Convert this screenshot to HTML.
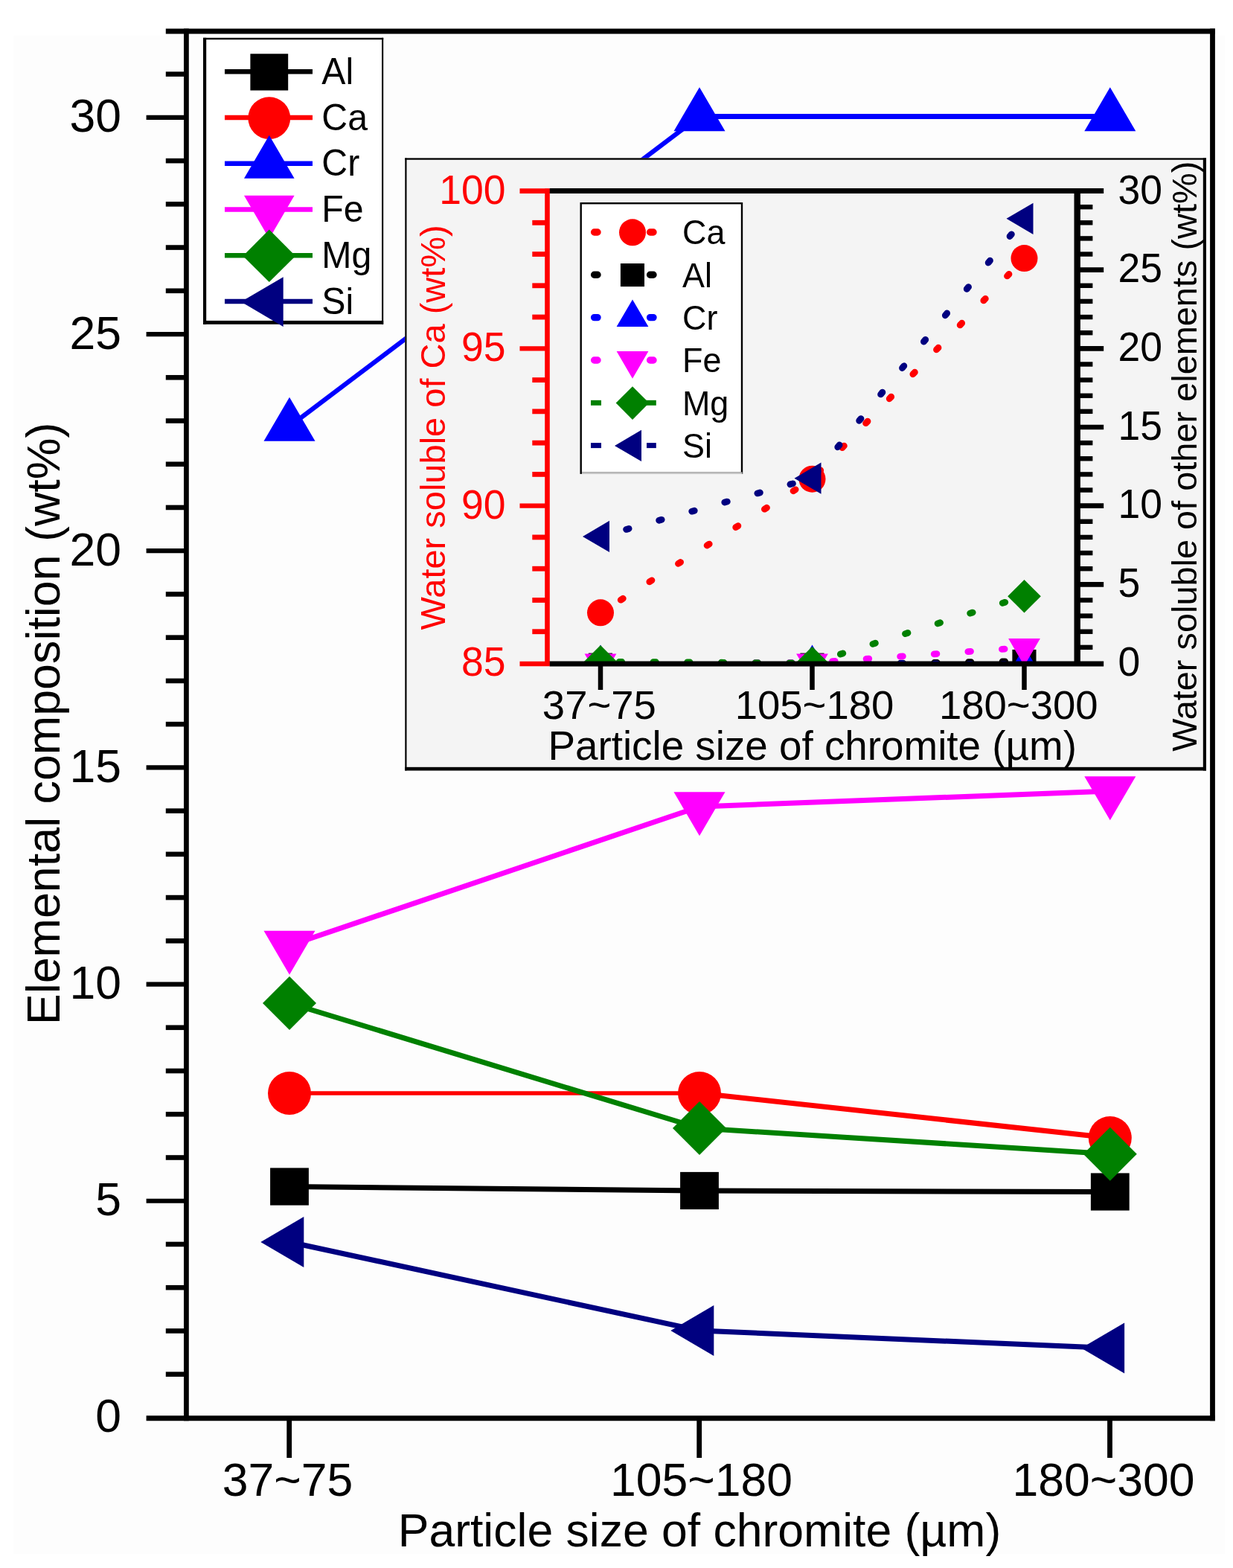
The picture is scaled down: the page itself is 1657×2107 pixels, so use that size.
<!DOCTYPE html>
<html lang="en"><head><meta charset="utf-8"><title>Elemental composition vs particle size of chromite</title>
<style>html,body{margin:0;padding:0;background:#fff;}body{width:1657px;height:2107px;overflow:hidden;}svg{display:block;}text{font-family:"Liberation Sans", sans-serif;}</style>
</head><body>
<svg width="1657" height="2107" viewBox="0 0 1657 2107" role="img" aria-label="Elemental composition versus particle size of chromite, with inset of water soluble fractions">
<rect x="0" y="0" width="1657" height="2107" fill="#ffffff"/>
<rect x="18" y="48" width="1628" height="2040" fill="#fdfdfd"/>
<line x1="389" y1="1594.5" x2="940" y2="1600" stroke="#000000" stroke-width="7.0"/>
<line x1="940" y1="1600" x2="1491.8" y2="1601.5" stroke="#000000" stroke-width="7.0"/>
<rect x="363.1" y="1569.4" width="51.8" height="50.2" fill="#000000"/>
<rect x="914.1" y="1574.9" width="51.8" height="50.2" fill="#000000"/>
<rect x="1465.9" y="1576.4" width="51.8" height="50.2" fill="#000000"/>
<line x1="389" y1="1469" x2="940" y2="1469" stroke="#ff0000" stroke-width="5.4"/>
<line x1="940" y1="1469" x2="1491.8" y2="1529" stroke="#ff0000" stroke-width="7.0"/>
<circle cx="389" cy="1469" r="29.0" fill="#ff0000"/>
<circle cx="940" cy="1469" r="29.0" fill="#ff0000"/>
<circle cx="1491.8" cy="1529" r="29.0" fill="#ff0000"/>
<line x1="389" y1="573" x2="940" y2="156.5" stroke="#0000ff" stroke-width="6.2"/>
<line x1="940" y1="156.5" x2="1491.8" y2="156.5" stroke="#0000ff" stroke-width="7.2"/>
<polygon points="389.0,533.7 423.5,592.7 354.5,592.7" fill="#0000ff"/>
<polygon points="940.0,117.2 974.5,176.2 905.5,176.2" fill="#0000ff"/>
<polygon points="1491.8,117.2 1526.3,176.2 1457.3,176.2" fill="#0000ff"/>
<line x1="389" y1="1270.5" x2="940" y2="1084" stroke="#ff00ff" stroke-width="7.0"/>
<line x1="940" y1="1084" x2="1491.8" y2="1063" stroke="#ff00ff" stroke-width="7.0"/>
<polygon points="389.0,1309.8 423.5,1250.8 354.5,1250.8" fill="#ff00ff"/>
<polygon points="940.0,1123.3 974.5,1064.3 905.5,1064.3" fill="#ff00ff"/>
<polygon points="1491.8,1102.3 1526.3,1043.3 1457.3,1043.3" fill="#ff00ff"/>
<line x1="389" y1="1348" x2="940" y2="1516" stroke="#008000" stroke-width="7.0"/>
<line x1="940" y1="1516" x2="1491.8" y2="1550.7" stroke="#008000" stroke-width="7.0"/>
<polygon points="389.0,1312.0 425.0,1348.0 389.0,1384.0 353.0,1348.0" fill="#008000"/>
<polygon points="940.0,1480.0 976.0,1516.0 940.0,1552.0 904.0,1516.0" fill="#008000"/>
<polygon points="1491.8,1514.7 1527.8,1550.7 1491.8,1586.7 1455.8,1550.7" fill="#008000"/>
<line x1="389" y1="1669" x2="940" y2="1788" stroke="#000080" stroke-width="7.0"/>
<line x1="940" y1="1788" x2="1491.8" y2="1811.5" stroke="#000080" stroke-width="7.0"/>
<polygon points="350.3,1669.0 408.3,1635.0 408.3,1703.0" fill="#000080"/>
<polygon points="901.3,1788.0 959.3,1754.0 959.3,1822.0" fill="#000080"/>
<polygon points="1453.1,1811.5 1511.1,1777.5 1511.1,1845.5" fill="#000080"/>
<line x1="250.4" y1="38.6" x2="250.4" y2="1909.2" stroke="#000" stroke-width="6.8" />
<line x1="1629.5" y1="38.6" x2="1629.5" y2="1909.2" stroke="#000" stroke-width="6.8" />
<line x1="222.8" y1="42.1" x2="1632.9" y2="42.1" stroke="#000" stroke-width="7" />
<line x1="196.6" y1="1905.7" x2="1632.9" y2="1905.7" stroke="#000" stroke-width="7" />
<line x1="222.8" y1="1846.6650000000002" x2="250.4" y2="1846.6650000000002" stroke="#000" stroke-width="6.6" />
<line x1="222.8" y1="1788.43" x2="250.4" y2="1788.43" stroke="#000" stroke-width="6.6" />
<line x1="222.8" y1="1730.1950000000002" x2="250.4" y2="1730.1950000000002" stroke="#000" stroke-width="6.6" />
<line x1="222.8" y1="1671.96" x2="250.4" y2="1671.96" stroke="#000" stroke-width="6.6" />
<line x1="196.6" y1="1613.7250000000001" x2="250.4" y2="1613.7250000000001" stroke="#000" stroke-width="6.2" />
<line x1="222.8" y1="1555.4900000000002" x2="250.4" y2="1555.4900000000002" stroke="#000" stroke-width="6.6" />
<line x1="222.8" y1="1497.255" x2="250.4" y2="1497.255" stroke="#000" stroke-width="6.6" />
<line x1="222.8" y1="1439.02" x2="250.4" y2="1439.02" stroke="#000" stroke-width="6.6" />
<line x1="222.8" y1="1380.785" x2="250.4" y2="1380.785" stroke="#000" stroke-width="6.6" />
<line x1="196.6" y1="1322.5500000000002" x2="250.4" y2="1322.5500000000002" stroke="#000" stroke-width="6.2" />
<line x1="222.8" y1="1264.315" x2="250.4" y2="1264.315" stroke="#000" stroke-width="6.6" />
<line x1="222.8" y1="1206.0800000000002" x2="250.4" y2="1206.0800000000002" stroke="#000" stroke-width="6.6" />
<line x1="222.8" y1="1147.8450000000003" x2="250.4" y2="1147.8450000000003" stroke="#000" stroke-width="6.6" />
<line x1="222.8" y1="1089.6100000000001" x2="250.4" y2="1089.6100000000001" stroke="#000" stroke-width="6.6" />
<line x1="196.6" y1="1031.375" x2="250.4" y2="1031.375" stroke="#000" stroke-width="6.2" />
<line x1="222.8" y1="973.1400000000001" x2="250.4" y2="973.1400000000001" stroke="#000" stroke-width="6.6" />
<line x1="222.8" y1="914.9050000000001" x2="250.4" y2="914.9050000000001" stroke="#000" stroke-width="6.6" />
<line x1="222.8" y1="856.6700000000001" x2="250.4" y2="856.6700000000001" stroke="#000" stroke-width="6.6" />
<line x1="222.8" y1="798.4350000000002" x2="250.4" y2="798.4350000000002" stroke="#000" stroke-width="6.6" />
<line x1="196.6" y1="740.2" x2="250.4" y2="740.2" stroke="#000" stroke-width="6.2" />
<line x1="222.8" y1="681.9650000000001" x2="250.4" y2="681.9650000000001" stroke="#000" stroke-width="6.6" />
<line x1="222.8" y1="623.73" x2="250.4" y2="623.73" stroke="#000" stroke-width="6.6" />
<line x1="222.8" y1="565.4950000000001" x2="250.4" y2="565.4950000000001" stroke="#000" stroke-width="6.6" />
<line x1="222.8" y1="507.2600000000002" x2="250.4" y2="507.2600000000002" stroke="#000" stroke-width="6.6" />
<line x1="196.6" y1="449.0250000000001" x2="250.4" y2="449.0250000000001" stroke="#000" stroke-width="6.2" />
<line x1="222.8" y1="390.7900000000002" x2="250.4" y2="390.7900000000002" stroke="#000" stroke-width="6.6" />
<line x1="222.8" y1="332.55500000000006" x2="250.4" y2="332.55500000000006" stroke="#000" stroke-width="6.6" />
<line x1="222.8" y1="274.32000000000016" x2="250.4" y2="274.32000000000016" stroke="#000" stroke-width="6.6" />
<line x1="222.8" y1="216.08500000000004" x2="250.4" y2="216.08500000000004" stroke="#000" stroke-width="6.6" />
<line x1="196.6" y1="157.85000000000014" x2="250.4" y2="157.85000000000014" stroke="#000" stroke-width="6.2" />
<line x1="222.8" y1="99.61500000000001" x2="250.4" y2="99.61500000000001" stroke="#000" stroke-width="6.6" />
<text x="163" y="1924.4" font-size="62.5" fill="#000" text-anchor="end" >0</text>
<text x="163" y="1633.2250000000001" font-size="62.5" fill="#000" text-anchor="end" >5</text>
<text x="163" y="1342.0500000000002" font-size="62.5" fill="#000" text-anchor="end" >10</text>
<text x="163" y="1050.875" font-size="62.5" fill="#000" text-anchor="end" >15</text>
<text x="163" y="759.7" font-size="62.5" fill="#000" text-anchor="end" >20</text>
<text x="163" y="468.5250000000001" font-size="62.5" fill="#000" text-anchor="end" >25</text>
<text x="163" y="177.35000000000014" font-size="62.5" fill="#000" text-anchor="end" >30</text>
<line x1="388.7" y1="1905.7" x2="388.7" y2="1959" stroke="#000" stroke-width="6.8" />
<line x1="939.7" y1="1905.7" x2="939.7" y2="1959" stroke="#000" stroke-width="6.8" />
<line x1="1491.5" y1="1905.7" x2="1491.5" y2="1959" stroke="#000" stroke-width="6.8" />
<text x="386.5" y="2009.5" font-size="62.5" fill="#000" text-anchor="middle" >37~75</text>
<text x="942.5" y="2009.5" font-size="62.5" fill="#000" text-anchor="middle" >105~180</text>
<text x="1483.1" y="2009.5" font-size="62.5" fill="#000" text-anchor="middle" >180~300</text>
<text x="940" y="2078.4" font-size="62.5" fill="#000" text-anchor="middle" >Particle size of chromite (µm)</text>
<text x="80" y="972.3" font-size="62.8" fill="#000" text-anchor="middle" transform="rotate(-90 80 972.3)" >Elemental composition (wt%)</text>
<rect x="273" y="50.8" width="242.2" height="385" fill="#ffffff"/>
<rect x="273" y="50.8" width="242.2" height="2.4" fill="#000"/>
<rect x="273" y="430.9" width="242.2" height="4.9" fill="#000"/>
<rect x="273" y="50.8" width="4.2" height="385" fill="#000"/>
<rect x="513.1" y="50.8" width="2.1" height="385" fill="#000"/>
<line x1="302" y1="96.3" x2="420" y2="96.3" stroke="#000000" stroke-width="6.4" />
<rect x="336.4" y="72.3" width="50.8" height="49.2" fill="#000000"/>
<text x="432.3" y="112.9" font-size="50" fill="#000" text-anchor="start" transform="translate(432.30 112.90) scale(0.965 1) translate(-432.30 -112.90)" >Al</text>
<line x1="302" y1="158.04" x2="420" y2="158.04" stroke="#ff0000" stroke-width="6.4" />
<circle cx="361.8" cy="158.64" r="28.4" fill="#ff0000"/>
<text x="432.3" y="174.64" font-size="50" fill="#000" text-anchor="start" transform="translate(432.30 174.64) scale(0.965 1) translate(-432.30 -174.64)" >Ca</text>
<line x1="302" y1="219.78" x2="420" y2="219.78" stroke="#0000ff" stroke-width="6.4" />
<polygon points="361.8,181.8 395.6,239.7 328.0,239.7" fill="#0000ff"/>
<text x="432.3" y="236.38" font-size="50" fill="#000" text-anchor="start" transform="translate(432.30 236.38) scale(0.965 1) translate(-432.30 -236.38)" >Cr</text>
<line x1="302" y1="281.52" x2="420" y2="281.52" stroke="#ff00ff" stroke-width="6.4" />
<polygon points="361.8,320.7 395.6,262.8 328.0,262.8" fill="#ff00ff"/>
<text x="432.3" y="298.12" font-size="50" fill="#000" text-anchor="start" transform="translate(432.30 298.12) scale(0.965 1) translate(-432.30 -298.12)" >Fe</text>
<line x1="302" y1="343.26" x2="420" y2="343.26" stroke="#008000" stroke-width="6.4" />
<polygon points="361.8,308.6 397.1,343.9 361.8,379.1 326.5,343.9" fill="#008000"/>
<text x="432.3" y="359.86" font-size="50" fill="#000" text-anchor="start" transform="translate(432.30 359.86) scale(0.965 1) translate(-432.30 -359.86)" >Mg</text>
<line x1="302" y1="405.0" x2="420" y2="405.0" stroke="#000080" stroke-width="6.4" />
<polygon points="323.9,405.6 380.7,372.3 380.7,438.9" fill="#000080"/>
<text x="432.3" y="421.6" font-size="50" fill="#000" text-anchor="start" transform="translate(432.30 421.60) scale(0.965 1) translate(-432.30 -421.60)" >Si</text>
<rect x="544.3" y="212.4" width="1076.7" height="823.1" fill="#f4f4f4"/>
<rect x="544.3" y="212.4" width="1076.7" height="2.3" fill="#000"/>
<rect x="544.3" y="212.4" width="2.2" height="823.1" fill="#000"/>
<rect x="1616.8" y="212.4" width="4.2" height="823.1" fill="#000"/>
<rect x="544.3" y="1030.8" width="1076.7" height="4.7" fill="#000"/>
<clipPath id="ic"><rect x="545" y="214" width="1074" height="680"/></clipPath>
<g clip-path="url(#ic)">
<line x1="807.0" y1="823.4" x2="1091.5" y2="643.7" stroke="#ff0000" stroke-width="8.8" stroke-linecap="round" stroke-dasharray="3.6 42.1" stroke-dashoffset="-32.20"/>
<line x1="1091.5" y1="643.7" x2="1376.5" y2="347.0" stroke="#ff0000" stroke-width="8.8" stroke-linecap="round" stroke-dasharray="3.6 42.1" stroke-dashoffset="-12.60"/>
<circle cx="807" cy="823.3733333333336" r="18.0" fill="#ff0000"/>
<circle cx="1091.5" cy="643.7400000000002" r="18.0" fill="#ff0000"/>
<circle cx="1376.5" cy="347.0279999999998" r="18.0" fill="#ff0000"/>
<line x1="807.0" y1="893.1" x2="1091.5" y2="893.1" stroke="#000000" stroke-width="8.8" stroke-linecap="round" stroke-dasharray="3.6 42.1" stroke-dashoffset="-25.20"/>
<line x1="1091.5" y1="893.1" x2="1376.5" y2="888.5" stroke="#000000" stroke-width="8.8" stroke-linecap="round" stroke-dasharray="3.6 42.1" stroke-dashoffset="-27.10"/>
<rect x="790.9" y="877.6" width="32.1" height="31.1" fill="#000000"/>
<rect x="1075.4" y="877.6" width="32.1" height="31.1" fill="#000000"/>
<rect x="1360.4" y="872.9" width="32.1" height="31.1" fill="#000000"/>
<line x1="807.0" y1="891.0" x2="1091.5" y2="891.0" stroke="#0000ff" stroke-width="8.8" stroke-linecap="round" stroke-dasharray="3.6 42.1" stroke-dashoffset="-25.20"/>
<line x1="1091.5" y1="891.0" x2="1376.5" y2="893.1" stroke="#0000ff" stroke-width="8.8" stroke-linecap="round" stroke-dasharray="3.6 42.1" stroke-dashoffset="-27.10"/>
<polygon points="807.0,866.6 828.4,903.2 785.6,903.2" fill="#0000ff"/>
<polygon points="1091.5,866.6 1112.9,903.2 1070.1,903.2" fill="#0000ff"/>
<polygon points="1376.5,868.7 1397.9,905.3 1355.1,905.3" fill="#0000ff"/>
<line x1="807.0" y1="890.6" x2="1091.5" y2="890.6" stroke="#ff00ff" stroke-width="8.8" stroke-linecap="round" stroke-dasharray="3.6 42.1" stroke-dashoffset="-25.20"/>
<line x1="1091.5" y1="890.6" x2="1376.5" y2="870.3" stroke="#ff00ff" stroke-width="8.8" stroke-linecap="round" stroke-dasharray="3.6 42.1" stroke-dashoffset="-27.10"/>
<polygon points="807.0,915.0 828.4,878.4 785.6,878.4" fill="#ff00ff"/>
<polygon points="1091.5,915.0 1112.9,878.4 1070.1,878.4" fill="#ff00ff"/>
<polygon points="1376.5,894.7 1397.9,858.1 1355.1,858.1" fill="#ff00ff"/>
<line x1="807.0" y1="889.3" x2="1091.5" y2="891.0" stroke="#008000" stroke-width="8.8" stroke-linecap="round" stroke-dasharray="3.6 42.1" stroke-dashoffset="-25.20"/>
<line x1="1091.5" y1="891.0" x2="1376.5" y2="801.2" stroke="#008000" stroke-width="8.8" stroke-linecap="round" stroke-dasharray="3.6 42.1" stroke-dashoffset="-39.70"/>
<polygon points="807.0,867.0 829.3,889.3 807.0,911.6 784.7,889.3" fill="#008000"/>
<polygon points="1091.5,868.7 1113.8,891.0 1091.5,913.3 1069.2,891.0" fill="#008000"/>
<polygon points="1376.5,778.9 1398.8,801.2 1376.5,823.5 1354.2,801.2" fill="#008000"/>
<line x1="807.0" y1="720.9" x2="1091.5" y2="642.7" stroke="#000080" stroke-width="8.8" stroke-linecap="round" stroke-dasharray="3.6 42.1" stroke-dashoffset="-35.90"/>
<line x1="1091.5" y1="642.7" x2="1376.5" y2="293.8" stroke="#000080" stroke-width="8.8" stroke-linecap="round" stroke-dasharray="3.6 42.1" stroke-dashoffset="-54.20"/>
<polygon points="783.0,720.9 819.0,699.8 819.0,742.0" fill="#000080"/>
<polygon points="1067.5,642.7 1103.5,621.6 1103.5,663.8" fill="#000080"/>
<polygon points="1352.5,293.8 1388.5,272.7 1388.5,314.9" fill="#000080"/>
</g>
<line x1="735.5" y1="253.5" x2="735.5" y2="894.5" stroke="#ff0000" stroke-width="6.6" />
<line x1="1447.7" y1="253.5" x2="1447.7" y2="894.5" stroke="#000" stroke-width="8.4" />
<line x1="738.5" y1="256.6" x2="1483.2" y2="256.6" stroke="#000" stroke-width="7" />
<line x1="738.5" y1="892" x2="1483.2" y2="892" stroke="#000" stroke-width="7" />
<line x1="698.5" y1="256.6" x2="738.5" y2="256.6" stroke="#ff0000" stroke-width="6.6" />
<line x1="698.5" y1="892" x2="738.5" y2="892" stroke="#ff0000" stroke-width="6.6" />
<line x1="715.3" y1="848.7333333333333" x2="735.5" y2="848.7333333333333" stroke="#ff0000" stroke-width="6.8" />
<line x1="715.3" y1="806.4666666666667" x2="735.5" y2="806.4666666666667" stroke="#ff0000" stroke-width="6.8" />
<line x1="715.3" y1="764.2" x2="735.5" y2="764.2" stroke="#ff0000" stroke-width="6.8" />
<line x1="715.3" y1="721.9333333333334" x2="735.5" y2="721.9333333333334" stroke="#ff0000" stroke-width="6.8" />
<line x1="698.5" y1="679.6666666666667" x2="735.5" y2="679.6666666666667" stroke="#ff0000" stroke-width="6.4" />
<line x1="715.3" y1="637.4" x2="735.5" y2="637.4" stroke="#ff0000" stroke-width="6.8" />
<line x1="715.3" y1="595.1333333333333" x2="735.5" y2="595.1333333333333" stroke="#ff0000" stroke-width="6.8" />
<line x1="715.3" y1="552.8666666666667" x2="735.5" y2="552.8666666666667" stroke="#ff0000" stroke-width="6.8" />
<line x1="715.3" y1="510.6" x2="735.5" y2="510.6" stroke="#ff0000" stroke-width="6.8" />
<line x1="698.5" y1="468.33333333333337" x2="735.5" y2="468.33333333333337" stroke="#ff0000" stroke-width="6.4" />
<line x1="715.3" y1="426.06666666666666" x2="735.5" y2="426.06666666666666" stroke="#ff0000" stroke-width="6.8" />
<line x1="715.3" y1="383.8" x2="735.5" y2="383.8" stroke="#ff0000" stroke-width="6.8" />
<line x1="715.3" y1="341.5333333333333" x2="735.5" y2="341.5333333333333" stroke="#ff0000" stroke-width="6.8" />
<line x1="715.3" y1="299.26666666666665" x2="735.5" y2="299.26666666666665" stroke="#ff0000" stroke-width="6.8" />
<line x1="1448" y1="869.8666666666667" x2="1468.4" y2="869.8666666666667" stroke="#000" stroke-width="6.4" />
<line x1="1448" y1="848.7333333333333" x2="1468.4" y2="848.7333333333333" stroke="#000" stroke-width="6.4" />
<line x1="1448" y1="827.6" x2="1468.4" y2="827.6" stroke="#000" stroke-width="6.4" />
<line x1="1448" y1="806.4666666666667" x2="1468.4" y2="806.4666666666667" stroke="#000" stroke-width="6.4" />
<line x1="1448" y1="785.3333333333334" x2="1483.2" y2="785.3333333333334" stroke="#000" stroke-width="6.6" />
<line x1="1448" y1="764.2" x2="1468.4" y2="764.2" stroke="#000" stroke-width="6.4" />
<line x1="1448" y1="743.0666666666666" x2="1468.4" y2="743.0666666666666" stroke="#000" stroke-width="6.4" />
<line x1="1448" y1="721.9333333333334" x2="1468.4" y2="721.9333333333334" stroke="#000" stroke-width="6.4" />
<line x1="1448" y1="700.8" x2="1468.4" y2="700.8" stroke="#000" stroke-width="6.4" />
<line x1="1448" y1="679.6666666666667" x2="1483.2" y2="679.6666666666667" stroke="#000" stroke-width="6.6" />
<line x1="1448" y1="658.5333333333333" x2="1468.4" y2="658.5333333333333" stroke="#000" stroke-width="6.4" />
<line x1="1448" y1="637.4" x2="1468.4" y2="637.4" stroke="#000" stroke-width="6.4" />
<line x1="1448" y1="616.2666666666667" x2="1468.4" y2="616.2666666666667" stroke="#000" stroke-width="6.4" />
<line x1="1448" y1="595.1333333333333" x2="1468.4" y2="595.1333333333333" stroke="#000" stroke-width="6.4" />
<line x1="1448" y1="574.0" x2="1483.2" y2="574.0" stroke="#000" stroke-width="6.6" />
<line x1="1448" y1="552.8666666666667" x2="1468.4" y2="552.8666666666667" stroke="#000" stroke-width="6.4" />
<line x1="1448" y1="531.7333333333333" x2="1468.4" y2="531.7333333333333" stroke="#000" stroke-width="6.4" />
<line x1="1448" y1="510.6" x2="1468.4" y2="510.6" stroke="#000" stroke-width="6.4" />
<line x1="1448" y1="489.4666666666667" x2="1468.4" y2="489.4666666666667" stroke="#000" stroke-width="6.4" />
<line x1="1448" y1="468.33333333333337" x2="1483.2" y2="468.33333333333337" stroke="#000" stroke-width="6.6" />
<line x1="1448" y1="447.2" x2="1468.4" y2="447.2" stroke="#000" stroke-width="6.4" />
<line x1="1448" y1="426.06666666666666" x2="1468.4" y2="426.06666666666666" stroke="#000" stroke-width="6.4" />
<line x1="1448" y1="404.93333333333334" x2="1468.4" y2="404.93333333333334" stroke="#000" stroke-width="6.4" />
<line x1="1448" y1="383.8" x2="1468.4" y2="383.8" stroke="#000" stroke-width="6.4" />
<line x1="1448" y1="362.66666666666663" x2="1483.2" y2="362.66666666666663" stroke="#000" stroke-width="6.6" />
<line x1="1448" y1="341.5333333333333" x2="1468.4" y2="341.5333333333333" stroke="#000" stroke-width="6.4" />
<line x1="1448" y1="320.4" x2="1468.4" y2="320.4" stroke="#000" stroke-width="6.4" />
<line x1="1448" y1="299.26666666666665" x2="1468.4" y2="299.26666666666665" stroke="#000" stroke-width="6.4" />
<line x1="1448" y1="278.1333333333333" x2="1468.4" y2="278.1333333333333" stroke="#000" stroke-width="6.4" />
<text x="679.5" y="908.0" font-size="53.5" fill="#ff0000" text-anchor="end" transform="translate(679.50 908.00) scale(1 1.05) translate(-679.50 -908.00)" >85</text>
<text x="679.5" y="696.6666666666667" font-size="53.5" fill="#ff0000" text-anchor="end" transform="translate(679.50 696.67) scale(1 1.05) translate(-679.50 -696.67)" >90</text>
<text x="679.5" y="485.33333333333337" font-size="53.5" fill="#ff0000" text-anchor="end" transform="translate(679.50 485.33) scale(1 1.05) translate(-679.50 -485.33)" >95</text>
<text x="679.5" y="274.0" font-size="53.5" fill="#ff0000" text-anchor="end" transform="translate(679.50 274.00) scale(1 1.05) translate(-679.50 -274.00)" >100</text>
<text x="1502.5" y="907.6" font-size="53.5" fill="#000" text-anchor="start" transform="translate(1502.50 907.60) scale(1 1.05) translate(-1502.50 -907.60)" >0</text>
<text x="1502.5" y="801.9333333333334" font-size="53.5" fill="#000" text-anchor="start" transform="translate(1502.50 801.93) scale(1 1.05) translate(-1502.50 -801.93)" >5</text>
<text x="1502.5" y="696.2666666666668" font-size="53.5" fill="#000" text-anchor="start" transform="translate(1502.50 696.27) scale(1 1.05) translate(-1502.50 -696.27)" >10</text>
<text x="1502.5" y="590.6" font-size="53.5" fill="#000" text-anchor="start" transform="translate(1502.50 590.60) scale(1 1.05) translate(-1502.50 -590.60)" >15</text>
<text x="1502.5" y="484.9333333333334" font-size="53.5" fill="#000" text-anchor="start" transform="translate(1502.50 484.93) scale(1 1.05) translate(-1502.50 -484.93)" >20</text>
<text x="1502.5" y="379.26666666666665" font-size="53.5" fill="#000" text-anchor="start" transform="translate(1502.50 379.27) scale(1 1.05) translate(-1502.50 -379.27)" >25</text>
<text x="1502.5" y="273.6" font-size="53.5" fill="#000" text-anchor="start" transform="translate(1502.50 273.60) scale(1 1.05) translate(-1502.50 -273.60)" >30</text>
<line x1="807" y1="891" x2="807" y2="927" stroke="#000" stroke-width="6.5" />
<line x1="1091.5" y1="891" x2="1091.5" y2="927" stroke="#000" stroke-width="6.5" />
<line x1="1376.5" y1="891" x2="1376.5" y2="927" stroke="#000" stroke-width="6.5" />
<text x="805.4" y="965.6" font-size="54.5" fill="#000" text-anchor="middle" >37~75</text>
<text x="1094.5" y="965.6" font-size="54.5" fill="#000" text-anchor="middle" >105~180</text>
<text x="1368.8" y="965.6" font-size="54.5" fill="#000" text-anchor="middle" >180~300</text>
<text x="1091.7" y="1020.7" font-size="54.8" fill="#000" text-anchor="middle" >Particle size of chromite (µm)</text>
<text x="598.5" y="574.3" font-size="47" fill="#ff0000" text-anchor="middle" transform="rotate(-90 598.5 574.3)" >Water soluble of Ca (wt%)</text>
<text x="1608" y="613.3" font-size="46.9" fill="#000" text-anchor="middle" transform="rotate(-90 1608 613.3)" >Water soluble of other elements (wt%)</text>
<rect x="780.7" y="273.2" width="216.3" height="362.5" fill="#ffffff" stroke="#000" stroke-width="2.4"/>
<rect x="781.9" y="634.4" width="215.6" height="2.6" fill="#c4c4c4"/>
<line x1="798.6" y1="312" x2="880" y2="312" stroke="#ff0000" stroke-width="9.4" stroke-linecap="round" stroke-dasharray="4.4 70.6"/>
<circle cx="850" cy="312.3" r="18.0" fill="#ff0000"/>
<text x="917" y="328.3" font-size="46.5" fill="#000" text-anchor="start" transform="translate(917.00 328.30) scale(0.965 1) translate(-917.00 -328.30)" >Ca</text>
<line x1="798.6" y1="369.3" x2="880" y2="369.3" stroke="#000000" stroke-width="9.4" stroke-linecap="round" stroke-dasharray="4.4 70.6"/>
<rect x="833.9" y="354.0" width="32.1" height="31.1" fill="#000000"/>
<text x="917" y="385.6" font-size="46.5" fill="#000" text-anchor="start" transform="translate(917.00 385.60) scale(0.965 1) translate(-917.00 -385.60)" >Al</text>
<line x1="798.6" y1="426.6" x2="880" y2="426.6" stroke="#0000ff" stroke-width="9.4" stroke-linecap="round" stroke-dasharray="4.4 70.6"/>
<polygon points="850.0,402.5 871.4,439.1 828.6,439.1" fill="#0000ff"/>
<text x="917" y="442.90000000000003" font-size="46.5" fill="#000" text-anchor="start" transform="translate(917.00 442.90) scale(0.965 1) translate(-917.00 -442.90)" >Cr</text>
<line x1="798.6" y1="484" x2="880" y2="484" stroke="#ff00ff" stroke-width="9.4" stroke-linecap="round" stroke-dasharray="4.4 70.6"/>
<polygon points="850.0,508.7 871.4,472.1 828.6,472.1" fill="#ff00ff"/>
<text x="917" y="500.3" font-size="46.5" fill="#000" text-anchor="start" transform="translate(917.00 500.30) scale(0.965 1) translate(-917.00 -500.30)" >Fe</text>
<line x1="794" y1="541.3" x2="808" y2="541.3" stroke="#008000" stroke-width="7"/>
<line x1="860" y1="541.3" x2="881.8" y2="541.3" stroke="#008000" stroke-width="7"/>
<polygon points="850.0,519.3 872.3,541.6 850.0,563.9 827.7,541.6" fill="#008000"/>
<text x="917" y="557.5999999999999" font-size="46.5" fill="#000" text-anchor="start" transform="translate(917.00 557.60) scale(0.965 1) translate(-917.00 -557.60)" >Mg</text>
<line x1="794" y1="598.6" x2="808" y2="598.6" stroke="#000080" stroke-width="7"/>
<line x1="869" y1="598.6" x2="881.8" y2="598.6" stroke="#000080" stroke-width="7"/>
<polygon points="826.0,598.9 862.0,577.8 862.0,620.0" fill="#000080"/>
<text x="917" y="614.9" font-size="46.5" fill="#000" text-anchor="start" transform="translate(917.00 614.90) scale(0.965 1) translate(-917.00 -614.90)" >Si</text>
</svg>
</body></html>
